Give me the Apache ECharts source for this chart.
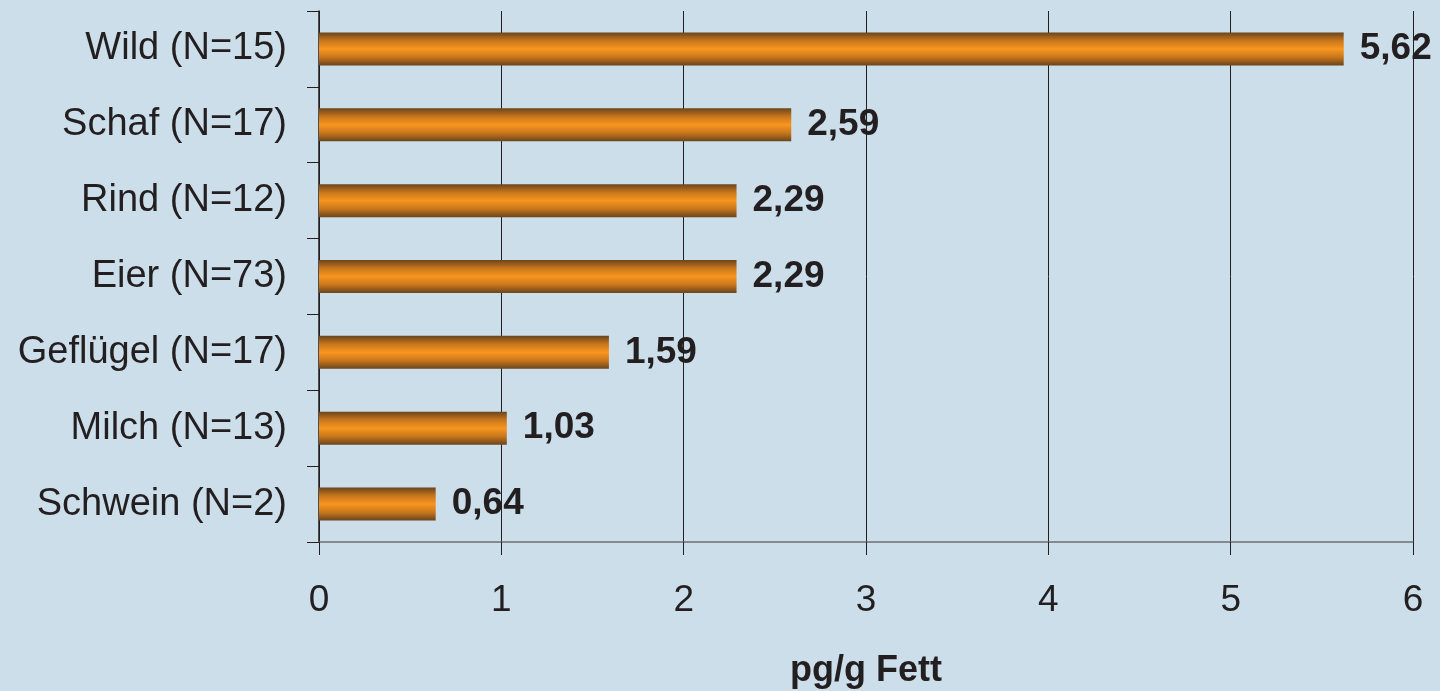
<!DOCTYPE html>
<html>
<head>
<meta charset="utf-8">
<script src="https://cdn.jsdelivr.net/npm/echarts@6/dist/echarts.min.js"></script>
<style>
  html, body { margin: 0; padding: 0; background: #cbdeea; }
  #chart { width: 1440px; height: 691px; }
</style>
</head>
<body>
<div id="chart"></div>
<script>
const categories = ['Wild (N=15)', 'Schaf (N=17)', 'Rind (N=12)', 'Eier (N=73)', 'Geflügel (N=17)', 'Milch (N=13)', 'Schwein (N=2)']
const values = [5.62, 2.59, 2.29, 2.29, 1.59, 1.03, 0.64]
const xTicks = [0, 1, 2, 3, 4, 5, 6]
const axisName = 'pg/g Fett'

const textColor = '#231f20'
const chart = echarts.init(document.getElementById('chart'))

const barColor = new echarts.graphic.LinearGradient(0, 0, 0, 1, [
  { offset: 0, color: '#6a451c' },
  { offset: 0.25, color: '#c8761c' },
  { offset: 0.5, color: '#f8961f' },
  { offset: 0.75, color: '#c8761c' },
  { offset: 1, color: '#6a451c' }
])

const option = {
  backgroundColor: '#cbdeea',
  animation: false,
  grid: {
    left: 319,
    right: 27,
    top: 11,
    bottom: 149,
    outerBoundsMode: 'none'
  },
  xAxis: {
    type: 'value',
    min: xTicks[0],
    max: xTicks[xTicks.length - 1],
    interval: 1,
    name: axisName,
    nameLocation: 'middle',
    nameGap: 111,
    nameTextStyle: {
      fontFamily: 'Liberation Sans',
      fontWeight: 'bold',
      fontSize: 36,
      color: textColor
    },
    axisLine: { show: true, lineStyle: { color: '#6d6e71', width: 1.5 } },
    axisTick: { show: true, length: 13, lineStyle: { color: '#231f20', width: 1 } },
    axisLabel: {
      margin: 40,
      fontFamily: 'Liberation Sans',
      fontSize: 37,
      color: textColor
    },
    splitLine: { show: true, lineStyle: { color: '#231f20', width: 1 } }
  },
  yAxis: {
    type: 'category',
    data: categories,
    inverse: true,
    axisLine: { show: true, onZero: false, lineStyle: { color: '#231f20', width: 1.5 } },
    axisTick: { show: true, length: 12, lineStyle: { color: '#231f20', width: 1 } },
    axisLabel: {
      margin: 32,
      fontFamily: 'Liberation Sans',
      fontSize: 38,
      color: textColor
    }
  },
  series: [{
    type: 'bar',
    data: values,
    barWidth: 33,
    itemStyle: { color: barColor },
    label: {
      show: true,
      position: 'right',
      distance: 16,
      offset: [0, 0],
      fontFamily: 'Liberation Sans',
      fontWeight: 'bold',
      fontSize: 37,
      color: textColor,
      formatter: p => p.value.toFixed(2).replace('.', ',')
    }
  }]
}

chart.setOption(option)
</script>
</body>
</html>
